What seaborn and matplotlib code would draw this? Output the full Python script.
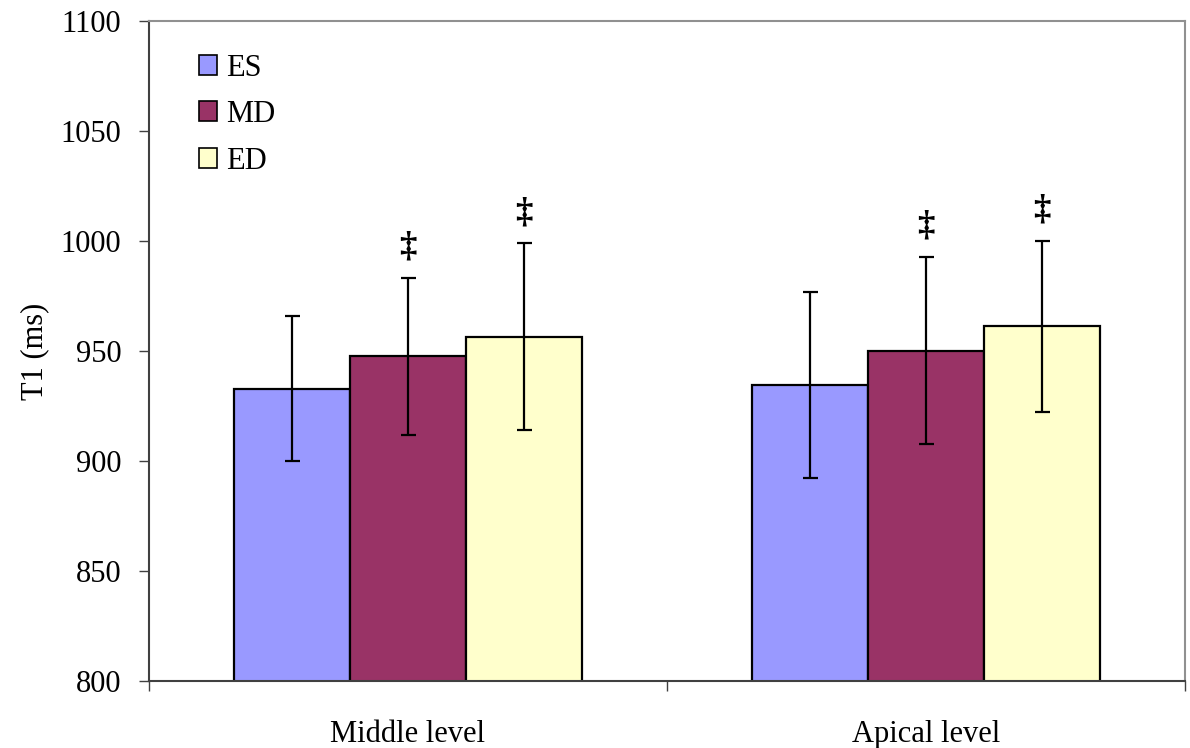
import matplotlib
matplotlib.use("Agg")
import matplotlib.pyplot as plt
import seaborn as sns
import pandas as pd

# Mean T1 (ms) and SD per cardiac phase at two ventricular levels
levels = ["Middle level", "Apical level"]
phases = ["ES", "MD", "ED"]
t1_mean = {
    "ES": [932.8, 934.5],
    "MD": [947.6, 950.2],
    "ED": [956.5, 961.3],
}
t1_sd = {
    "ES": [32.9, 42.4],
    "MD": [35.8, 42.4],
    "ED": [42.4, 38.9],
}
# Significance marks (‡) per phase and level
significant = {
    "ES": [False, False],
    "MD": [True, True],
    "ED": [True, True],
}
phase_colors = ["#9999FF", "#993366", "#FFFFCC"]

rows = []
for ph in phases:
    for i, lv in enumerate(levels):
        rows.append({"level": lv, "phase": ph, "T1": t1_mean[ph][i],
                     "sd": t1_sd[ph][i], "sig": significant[ph][i]})
df = pd.DataFrame(rows)

sns.set_theme(style="white")
plt.rcParams["font.family"] = ["Liberation Serif", "DejaVu Serif"]
plt.rcParams["text.color"] = "black"
plt.rcParams["axes.labelcolor"] = "black"
plt.rcParams["xtick.color"] = "black"
plt.rcParams["ytick.color"] = "black"

FS = 22

fig = plt.figure(figsize=(11.9, 7.48), dpi=100)
ax = fig.add_axes([0.1252, 0.0896, 0.8706, 0.8823])

sns.barplot(data=df, x="level", y="T1", hue="phase", order=levels,
            hue_order=phases, palette=phase_colors, width=0.672, gap=0,
            edgecolor="black", linewidth=1.6, errorbar=None, saturation=1,
            ax=ax)

# Error bars and significance marks on each bar
for ph, cont in zip(phases, ax.containers):
    sub = df[df["phase"] == ph].set_index("level").loc[levels]
    xs = [p.get_x() + p.get_width() / 2 for p in cont.patches]
    ax.errorbar(xs, sub["T1"].values, yerr=sub["sd"].values, fmt="none",
                ecolor="black", elinewidth=1.6, capsize=5.4, capthick=1.6,
                zorder=5)
    for x, m, s, flag in zip(xs, sub["T1"].values, sub["sd"].values,
                             sub["sig"].values):
        if flag:
            ax.text(x, m + s + 14, "\u2021", ha="center", va="center",
                    fontsize=25, fontweight="bold", color="black")

ax.set_ylim(800, 1100)
ax.set_xlim(-0.5, 1.5)
ax.set_yticks(range(800, 1101, 50))
ax.set_xlabel("")
ax.set_ylabel("T1 (ms)", fontsize=FS, labelpad=8, color="black")

ax.tick_params(axis="y", which="major", direction="out", length=7,
               width=1, color="#404040", labelsize=FS, left=True, pad=13,
               labelcolor="black")
ax.tick_params(axis="x", which="major", length=0, labelsize=FS, pad=28,
               labelcolor="black")
ax.set_xticks([-0.5, 0.5, 1.5], minor=True)
ax.tick_params(axis="x", which="minor", direction="out", length=7,
               width=1, color="#404040", bottom=True)

for side in ["left", "bottom"]:
    ax.spines[side].set_color("#404040")
    ax.spines[side].set_linewidth(1.5)
for side in ["top", "right"]:
    ax.spines[side].set_color("#909090")
    ax.spines[side].set_linewidth(1.5)

leg = ax.legend(loc="upper left", bbox_to_anchor=(0.036, 0.969),
                frameon=False, fontsize=FS, handlelength=0.62,
                handleheight=0.62, handletextpad=0.28, labelspacing=0.57,
                borderaxespad=0)
for h in leg.legend_handles:
    h.set_edgecolor("black")
    h.set_linewidth(1.2)
for t in leg.get_texts():
    t.set_color("black")

fig.savefig("out.png", dpi=100, facecolor="white")
